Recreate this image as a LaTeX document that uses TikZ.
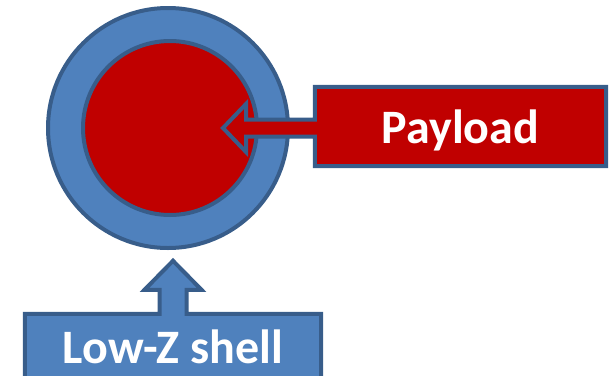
\documentclass[tikz,border=0pt]{standalone}
\usepackage{fontspec}
\setmainfont{Carlito}
\usetikzlibrary{calc,backgrounds}
\definecolor{shellblue}{HTML}{4F81BD}
\definecolor{edgeblue}{HTML}{385D8A}
\definecolor{corered}{HTML}{C00000}

\begin{document}
\begin{tikzpicture}[
  x=1pt, y=-1pt,
  ring/.style={circle, draw=edgeblue, line width=4pt, inner sep=0pt},
  callout/.style={draw=edgeblue, line width=4pt, line join=miter},
  lbl/.style={font=\fontsize{48}{56}\selectfont\bfseries, text=white, inner sep=0pt, text depth=0pt},
]
  \useasboundingbox (0,0) rectangle (612,375);

  % Labels (their boxes are the callout bodies)
  \node[lbl, minimum width=291pt, minimum height=79pt] (payload) at (460.5,126.5) {Payload};
  \node[lbl, minimum width=296pt, minimum height=66pt] (lowz) at (173,347) {Low-Z shell};

  \begin{scope}[on background layer]
    % Target
    \node[ring, fill=shellblue, minimum size=240pt] (shell) at (168,128) {};
    \node[ring, fill=corered, minimum size=174pt] (core) at (170,128) {};

    \coordinate (pltip) at ($(core.center)+(53,0)$);
    \coordinate (lztip) at ($(lowz.north)+(0,-53)$);

    % Callouts
    \draw[callout, fill=corered]
      (payload.north west) -- (payload.north east) -- (payload.south east) -- (payload.south west)
      -- ($(payload.west |- pltip)+(0,8.5)$) -- ($(pltip)+(23,8.5)$) -- ($(pltip)+(23,24)$)
      -- (pltip)
      -- ($(pltip)+(23,-24)$) -- ($(pltip)+(23,-8.5)$) -- ($(payload.west |- pltip)+(0,-8.5)$)
      -- cycle;
    \draw[callout, fill=shellblue]
      (lowz.north east) -- (lowz.south east) -- (lowz.south west) -- (lowz.north west)
      -- ($(lowz.north)+(-13.5,0)$) -- ($(lztip)+(-13.5,29)$) -- ($(lztip)+(-28.5,29)$)
      -- (lztip)
      -- ($(lztip)+(28.5,29)$) -- ($(lztip)+(13.5,29)$) -- ($(lowz.north)+(13.5,0)$)
      -- cycle;
  \end{scope}
\end{tikzpicture}
\end{document}
